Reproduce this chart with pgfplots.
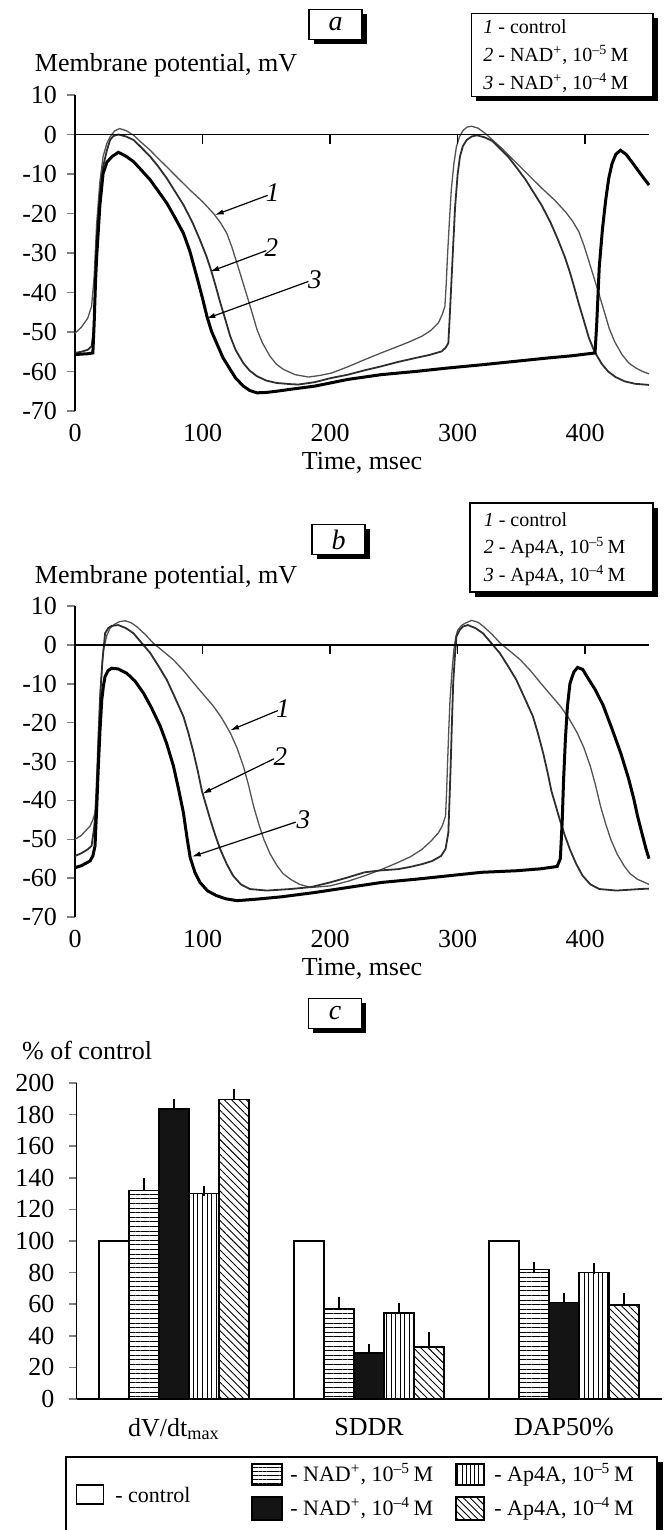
\documentclass[border=0pt]{standalone}
\usepackage{fontspec}
\setmainfont{Liberation Serif}
\usepackage{pgfplots}
\pgfplotsset{compat=1.18}
\usetikzlibrary{patterns.meta,arrows.meta}

\newcommand{\tfont}{\fontsize{13}{15}\selectfont}
\newcommand{\lfont}{\fontsize{10}{12}\selectfont}
\newcommand{\cfont}{\fontsize{11}{13}\selectfont}

\tikzset{
  num/.style={font=\fontsize{13.5}{15}\selectfont\itshape},
  arr/.style={line width=0.6pt, -{Latex[length=4.5pt,width=2.6pt]}},
}
\pgfplotsset{
  trace/.style={
    anchor=south west, scale only axis, width=287pt,
    xmin=0, xmax=450, ymin=-70, ymax=10,
    axis y line*=left, axis x line*=bottom,
    x axis line style={draw=none}, major x tick style={draw=none},
    xtick={0,100,200,300,400}, ytick={-70,-60,...,10},
    tick align=outside, major tick length=4pt,
    axis line style={line width=0.75pt}, major tick style={line width=0.75pt},
    tick label style={font=\tfont},
    /pgf/number format/assume math mode=true,
    yticklabel style={xshift=-1.5pt},
    xticklabel style={yshift=1pt},
    xlabel={Time, msec},
    xlabel style={at={(axis description cs:0.5,0)}, anchor=center, yshift=-26pt, font=\tfont},
    ylabel={Membrane potential, mV},
    ylabel style={rotate=-90, at={(axis description cs:-0.082,1.095)}, anchor=west, font=\tfont},
    clip=false,
  },
  c1/.style={no marks, line width=0.65pt, black!68},
  c2/.style={no marks, line width=0.9pt, black!82},
  c3/.style={no marks, line width=1.5pt, black},
}

\begin{document}
\begin{tikzpicture}

% ---------------- panel a ----------------
\begin{axis}[trace, at={(37.5pt,-205.5pt)}, height=158pt]
\addplot[c1] coordinates {
(0,-50.3) (5,-48.8) (10,-46.5) (13,-43.5) (15,-36) (17,-22.5) (19.5,-12) (22,-5.6) (25,-2.2) (27.5,-0.6)
(31,0.9) (35,1.5) (40,1) (46,-0.2) (52,-2) (59,-4) (65,-6) (72,-8.2) (80,-10.8) (90,-14) (100,-17)
(108.6,-20) (114,-22.3) (119,-25) (123,-28.5) (127,-32.6) (131,-36.8) (135,-41) (139,-45.3) (142.7,-49.4)
(147,-52.8) (153,-56.2) (158,-58.2) (163.6,-59.5) (172.6,-60.8) (183,-61.4) (192,-61) (201,-60.4)
(214,-58.8) (227,-57) (240,-55.3) (253.5,-53.6) (262,-52.5) (271.8,-51.1) (279,-49.6) (284.9,-47.7)
(288,-45.5) (290,-43.5) (291,-38) (292,-30.9) (293.5,-22) (295,-14) (297,-7.5) (299,-3.1) (301.5,-0.5)
(304.4,1.1) (307.5,1.9) (311,2.1) (316,1.6) (322,0.2) (328,-1.6) (335,-3.6) (341,-5.6) (348,-7.8)
(356,-10.4) (366,-13.6) (376,-16.6) (384.6,-19.6) (390,-21.9) (395,-24.6) (399,-28.1) (403,-32.2)
(407,-36.4) (411,-40.6) (415,-44.9) (418.7,-49) (423,-52.4) (429,-55.8) (434,-57.8) (439.6,-59.1)
(445,-60) (450,-60.6)};
\addplot[c2] coordinates {
(0,-55.3) (5,-55) (10,-54.5) (13,-53.6) (14.5,-50) (16,-38) (17,-26.7) (19.5,-15) (22,-8.2) (25,-4)
(27.5,-1.4) (30,-0.4) (34,0) (40,-0.5) (46,-1.4) (52,-3.3) (59,-5.6) (65,-8) (72,-11.1) (78,-14.2)
(85,-17.8) (92,-22.2) (98,-26.7) (103,-30.8) (107,-34.7) (110.5,-38.6) (114,-42.7) (118,-47) (121.7,-51.1)
(126,-54.6) (132,-57.9) (137,-59.8) (142.7,-61.2) (150,-62.3) (158,-62.9) (169,-63.2) (175,-63.3)
(188,-62.7) (200,-61.7) (214,-60.8) (227,-59.7) (240,-58.7) (253,-57.6) (266.6,-56.6) (278,-55.8)
(287.5,-54.9) (290.5,-54) (292.7,-52.8) (293.8,-46) (294.8,-39.3) (296.5,-28) (298,-18.3) (300,-10)
(301.8,-5.6) (304,-3) (307,-1.4) (311,-0.5) (315,-0.2) (321,-0.7) (327,-1.6) (333,-3.5) (340,-5.8)
(346,-8.3) (353,-11.3) (359,-14.4) (366,-18) (373,-22.4) (379,-26.9) (384,-31) (388,-34.9) (391.5,-38.8)
(395,-42.9) (399,-47.2) (402.7,-51.3) (407,-54.8) (413,-58.1) (418,-60) (423.7,-61.4) (431,-62.5)
(439,-63.1) (450,-63.4)};
\addplot[c3] coordinates {
(0,-55.7) (5,-55.6) (10,-55.5) (14,-55.3) (15,-48) (16,-38) (17,-30.9) (19.5,-18) (22,-9.9) (25,-7)
(29,-5.6) (34,-4.5) (40,-5.5) (46,-6.9) (52,-9) (59,-11.5) (65,-14.2) (72,-17.4) (78,-20.8) (85,-25)
(90,-29.5) (95.5,-36) (100,-41.5) (103.4,-46) (107,-49.8) (111,-52.8) (116,-56.5) (121.7,-59.5)
(126,-61.7) (132,-63.7) (137,-64.8) (142.7,-65.4) (150,-65.3) (158,-65) (169,-64.5) (188,-63.7)
(214,-62) (240,-60.8) (266.6,-60) (292.7,-59.1) (318.8,-58.3) (346,-57.4) (370,-56.6) (390,-56)
(407.7,-55.3) (409,-48) (411,-33.6) (413.5,-24) (416,-16.7) (418.5,-11) (421,-7.4) (424,-5)
(427.6,-4) (432,-5) (437.6,-7.4) (443,-9.8) (450,-12.8)};
\draw[line width=0.75pt] (axis cs:0,0) -- (axis cs:450,0);
\pgfplotsinvokeforeach{100,200,300,400}{\draw[line width=0.75pt] (axis cs:#1,0) -- ++(0pt,-4.5pt);}
\draw[arr] (axis cs:151,-15.4) -- (axis cs:109.5,-20.4);
\node[num] at (axis cs:155,-14.8) {1};
\draw[arr] (axis cs:150,-29.4) -- (axis cs:106,-34.7);
\node[num] at (axis cs:154,-28.6) {2};
\draw[arr] (axis cs:183,-37.2) -- (axis cs:103,-46.6);
\node[num] at (axis cs:188,-36.8) {3};
\end{axis}

% ---------------- panel b ----------------
\begin{axis}[trace, at={(37.5pt,-458.5pt)}, height=155.5pt, ylabel style={at={(axis description cs:-0.082,1.094)}}]
\addplot[c1] coordinates {
(0,-50) (5,-49) (11.8,-46.6) (14,-45) (15.7,-43.2) (17,-34) (18.3,-22.6) (20,-11) (22.3,-1.3) (25,2.5)
(27.5,4.3) (31,5.3) (35,6) (39.3,6.2) (44,5.7) (48.4,4.7) (55,2.7) (61.5,0.4) (69,-1.6) (77,-3.8)
(85,-6.6) (93,-9.8) (100,-12.5) (108.6,-15.8) (115,-18.8) (121.7,-22.6) (127,-26.5) (132,-31.2)
(136,-36) (140,-41.5) (144,-46) (148,-50) (153,-53.8) (158.4,-56.8) (163,-58.8) (169,-60.3) (176,-61.6)
(185,-62.4) (200,-62) (214,-60.8) (227,-59.4) (240,-57.8) (253,-56) (263,-54.5) (272,-52.6) (279,-50.5)
(285,-48.3) (288,-46.5) (290.5,-44) (291.3,-38) (292,-31.2) (293,-22) (294,-14.1) (295.5,-7) (297,-1.3)
(298.5,2) (300,3.8) (303,5) (306,5.6) (311,6.3) (316,5.8) (320.4,4.7) (327,2.7) (333.5,0.4) (341,-1.6)
(349,-3.8) (357,-6.6) (365,-9.8) (372,-12.5) (380.6,-15.8) (387,-18.8) (393.7,-22.6) (399,-26.5)
(404,-31.2) (408,-36) (412,-41.5) (416,-46) (420,-50) (425,-53.8) (430.4,-56.8) (435,-58.8) (441,-60.3)
(450,-61.6)};
\addplot[c2] coordinates {
(0,-54.3) (5,-53.6) (10,-52.6) (13,-51.7) (15,-47) (17,-39.7) (18.3,-27) (19.6,-14.1) (21.5,-4) (23.6,3)
(26,4.3) (28.8,4.9) (34,5.1) (40,4.3) (45.8,3) (52,0.6) (59,-2.1) (65,-5.2) (72,-9) (78,-13.3) (85,-18.4)
(89,-22.8) (93,-27.8) (96.5,-32.8) (99.5,-37.6) (103,-41.5) (106,-44.9) (110,-49) (113.9,-52.6)
(119,-56.4) (124,-59.4) (130,-61.6) (137,-62.8) (150.5,-63.2) (169,-62.8) (185,-62.3) (200,-61.1)
(214,-59.8) (227,-58.5) (240,-58) (253,-57.7) (263,-57.1) (272,-56.4) (280,-55.6) (287,-54.3)
(290.5,-52.5) (292.7,-48.3) (293.6,-40) (294.5,-31.2) (295.5,-20) (296.5,-9.8) (297.8,-3) (299,2.1)
(301.5,3.8) (304,4.7) (308,5.1) (314,4.3) (319.8,3) (326,0.6) (333,-2.1) (339,-5.2) (346,-9) (352,-13.3)
(359,-18.4) (363,-22.8) (367,-27.8) (370.5,-32.8) (373.5,-37.6) (377,-41.5) (380,-44.9) (384,-49)
(388,-52.6) (393,-56.4) (398,-59.4) (404,-61.6) (411,-62.8) (424.5,-63.2) (443,-62.8) (450,-62.7)};
\addplot[c3] coordinates {
(0,-57.3) (5,-56.8) (11.8,-55.6) (14,-54.3) (15.7,-51.7) (17,-42) (18.3,-31.2) (19.6,-22) (21,-14.1)
(22.3,-10.5) (23.6,-8.1) (26,-6.6) (28.8,-6) (34,-6.2) (40.6,-7.3) (47,-9.3) (53.7,-12.4) (60,-16.2)
(66.8,-20.9) (72,-25.5) (77.2,-31.2) (81,-36.8) (85,-43.2) (88,-50) (90.3,-54.7) (94,-58.5) (98,-61.1)
(104,-63.3) (111,-64.5) (118,-65.3) (127,-65.8) (142.7,-65.4) (162,-64.8) (188,-63.7) (214,-62.4)
(240.5,-61.1) (266.6,-60.3) (292.7,-59.4) (318.8,-58.5) (346,-58.1) (365,-57.6) (378,-57) (380.5,-55)
(382,-45) (383,-35) (384.5,-24) (386,-16) (388,-10) (391,-7) (394,-5.8) (398,-6.3) (403,-9)
(407.6,-11.4) (414,-15.5) (421,-21.6) (428,-28) (434,-34.4) (438,-39.5) (441,-44) (444.5,-48.5)
(447.6,-52.4) (450,-55)};
\draw[line width=0.75pt] (axis cs:0,0) -- (axis cs:450,0);
\pgfplotsinvokeforeach{100,200,300,400}{\draw[line width=0.75pt] (axis cs:#1,0) -- ++(0pt,-4.5pt);}
\draw[arr] (axis cs:159,-16.9) -- (axis cs:121.5,-22);
\node[num] at (axis cs:163,-16.4) {1};
\draw[arr] (axis cs:156,-29.3) -- (axis cs:99.8,-38.3);
\node[num] at (axis cs:161,-28.8) {2};
\draw[arr] (axis cs:173,-45.6) -- (axis cs:91.5,-54.5);
\node[num] at (axis cs:179,-45) {3};
\end{axis}

% ---------------- panel c ----------------
\begin{axis}[at={(38.25pt,-699.5pt)}, anchor=south west, scale only axis,
  width=292.5pt, height=158pt,
  xmin=-0.5, xmax=2.5, ymin=0, ymax=200, ytick={0,20,...,200},
  xtick={0,1,2}, xticklabels={dV/dt\textsubscript{max}, SDDR, DAP50\%},
  axis y line*=left, axis x line*=bottom, major x tick style={draw=none},
  tick align=outside, major tick length=4pt,
  axis line style={line width=0.75pt}, major tick style={line width=0.75pt},
  tick label style={font=\tfont},
  /pgf/number format/assume math mode=true,
  yticklabel style={xshift=-3.5pt},
  xticklabel style={yshift=-2pt},
  ylabel={\% of control},
  ylabel style={rotate=-90, at={(axis description cs:-0.105,1.104)}, anchor=west, font=\tfont},
  ybar=0pt, bar width=15pt,
  error bars/y dir=plus, error bars/y explicit,
  error bars/error bar style={line width=0.8pt, black},
  error bars/error mark options={line width=0.8pt, mark size=2.6pt, black},
  clip=false,
]
\addplot[draw=black, line width=0.75pt, fill=white] coordinates {(0,100) (1,100) (2,100)};
\addplot[draw=black, line width=0.75pt, pattern={Lines[angle=0,distance=2.3pt,line width=0.45pt]}]
  coordinates {(0,132) +- (0,4.7) (1,57.4) +- (0,3.9) (2,82) +- (0,1.7)};
\addplot[draw=black, line width=0.75pt, fill=black!92]
  coordinates {(0,183.5) +- (0,3.3) (1,29) +- (0,2.8) (2,61) +- (0,2.8)};
\addplot[draw=black, line width=0.75pt, pattern={Lines[angle=90,distance=2.3pt,line width=0.45pt]}]
  coordinates {(0,130) +- (0,1.8) (1,54.3) +- (0,3.1) (2,80.2) +- (0,2.3)};
\addplot[draw=black, line width=0.75pt, pattern={Lines[angle=-45,distance=2.6pt,line width=0.45pt]}]
  coordinates {(0,189.5) +- (0,3.6) (1,32.8) +- (0,6.6) (2,59.4) +- (0,4.4)};
\end{axis}

% ---------------- panel tags ----------------
\foreach \cx/\cy/\t in {167.75/-12.25/a, 169.25/-269.75/b, 167.5/-506.75/c}{
  \fill[black] (\cx pt-10.95pt, \cy pt+5.2pt) rectangle (\cx pt+15.55pt, \cy pt-9.8pt);
  \draw[line width=0.6pt, fill=white] (\cx pt-13.25pt, \cy pt+7.5pt) rectangle (\cx pt+13.25pt, \cy pt-7.5pt);
  \node[font=\fontsize{14}{16}\selectfont\itshape] at (\cx pt, \cy pt) {\t};
}

% ---------------- keys of a and b ----------------
\fill[black] (238.15pt,-8.95pt) rectangle (328.8pt,-50.65pt);
\draw[line width=0.6pt, fill=white] (235.85pt,-6.65pt) rectangle (326.5pt,-48.35pt);
\node[anchor=west, font=\lfont, inner sep=0pt] at (241.5pt,-13.5pt) {\textit{1} - control};
\node[anchor=west, font=\lfont, inner sep=0pt] at (241.5pt,-27.5pt) {\textit{2} - NAD\textsuperscript{+}, 10\textsuperscript{\textendash5}\,M};
\node[anchor=west, font=\lfont, inner sep=0pt] at (241.5pt,-41.5pt) {\textit{3} - NAD\textsuperscript{+}, 10\textsuperscript{\textendash4}\,M};

\fill[black] (237.3pt,-253.8pt) rectangle (328.8pt,-298.3pt);
\draw[line width=0.6pt, fill=white] (235pt,-251.5pt) rectangle (326.5pt,-296pt);
\node[anchor=west, font=\lfont, inner sep=0pt] at (241.7pt,-259.75pt) {\textit{1} - control};
\node[anchor=west, font=\lfont, inner sep=0pt] at (241.7pt,-273.75pt) {\textit{2} - Ap4A, 10\textsuperscript{\textendash5}\,M};
\node[anchor=west, font=\lfont, inner sep=0pt] at (241.7pt,-287.75pt) {\textit{3} - Ap4A, 10\textsuperscript{\textendash4}\,M};

% ---------------- key of c ----------------
\fill[black] (328.5pt,-731pt) rectangle (331.5pt,-780pt);
\draw[line width=0.75pt, fill=white] (33pt,-728.5pt) rectangle (328.5pt,-780pt);
\draw[line width=0.6pt, fill=white] (38.35pt,-742.5pt) rectangle (51.65pt,-752pt);
\node[anchor=west, font=\cfont, inner sep=0pt] at (57.5pt,-747.25pt) {- control};
\draw[line width=0.6pt, pattern={Lines[angle=0,distance=2.1pt,line width=0.45pt]}] (126pt,-732pt) rectangle (141pt,-742.5pt);
\node[anchor=west, font=\cfont, inner sep=0pt] at (145pt,-737.25pt) {- NAD\textsuperscript{+}, 10\textsuperscript{\textendash5}\,M};
\draw[line width=0.6pt, fill=black!92] (126pt,-748.5pt) rectangle (141pt,-760pt);
\node[anchor=west, font=\cfont, inner sep=0pt] at (145pt,-754.25pt) {- NAD\textsuperscript{+}, 10\textsuperscript{\textendash4}\,M};
\draw[line width=0.6pt, pattern={Lines[angle=90,distance=2.1pt,line width=0.45pt]}] (228pt,-732pt) rectangle (242pt,-742.5pt);
\node[anchor=west, font=\cfont, inner sep=0pt] at (247pt,-737.25pt) {- Ap4A, 10\textsuperscript{\textendash5}\,M};
\draw[line width=0.6pt, pattern={Lines[angle=-45,distance=2.4pt,line width=0.45pt]}] (228pt,-748.5pt) rectangle (242pt,-760pt);
\node[anchor=west, font=\cfont, inner sep=0pt] at (247pt,-754.25pt) {- Ap4A, 10\textsuperscript{\textendash4}\,M};

\pgfresetboundingbox
\path[use as bounding box] (0,0) rectangle (332.5pt,-765pt);
\end{tikzpicture}
\end{document}
